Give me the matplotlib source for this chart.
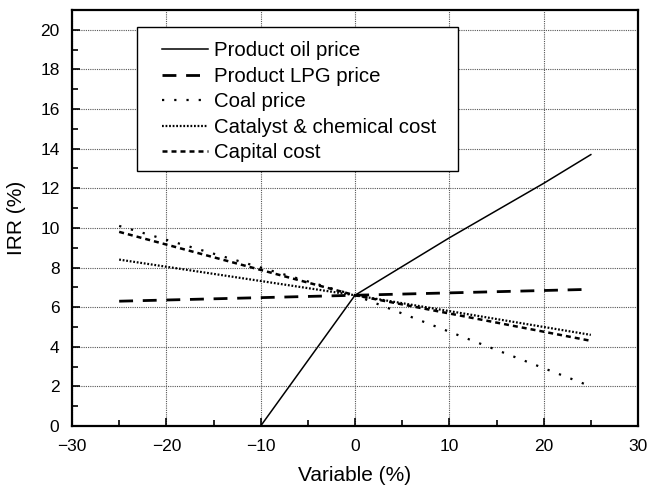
import matplotlib
matplotlib.use("Agg")
import matplotlib.pyplot as plt
from matplotlib.ticker import MultipleLocator
from matplotlib.patches import Rectangle

plt.rcParams['font.family'] = ['Liberation Sans', 'DejaVu Sans']

oil_x = [-10, 0, 10, 20, 25]
oil_y = [0.0, 6.6, 9.5, 12.25, 13.7]
lpg_x = [-25, 0, 25]
lpg_y = [6.3, 6.6, 6.9]
coal_x = [-25, 0, 25]
coal_y = [10.1, 6.6, 2.0]
cat_x = [-25, 0, 25]
cat_y = [8.4, 6.6, 4.6]
cap_x = [-25, 0, 25]
cap_y = [9.8, 6.6, 4.3]

fig = plt.figure(figsize=(6.5, 4.86), dpi=100)
ax = fig.add_axes([72 / 650, 60 / 486, 566 / 650, 416 / 486])

ax.plot(oil_x, oil_y, color='black', lw=1.1, label='Product oil price')
ax.plot(lpg_x, lpg_y, color='black', lw=2.0, dashes=(5, 3.5), label='Product LPG price')
ax.plot(coal_x, coal_y, color='black', lw=1.6, dashes=(1, 4.5), label='Coal price')
ax.plot(cat_x, cat_y, color='black', lw=1.6, dashes=(0.8, 0.8), label='Catalyst & chemical cost')
ax.plot(cap_x, cap_y, color='black', lw=1.8, dashes=(2, 1.6), label='Capital cost')

ax.set_xlim(-30, 30)
ax.set_ylim(0, 21)
ax.xaxis.set_minor_locator(MultipleLocator(5))
ax.yaxis.set_minor_locator(MultipleLocator(1))
ax.set_xticks(range(-30, 31, 10))
ax.set_xticklabels(['\u221230', '\u221220', '\u221210', '0', '10', '20', '30'])
ax.set_yticks(range(0, 21, 2))
ax.tick_params(which='both', direction='in', top=False, right=False, labelsize=12.5)
ax.tick_params(which='major', length=6, width=1.2)
ax.tick_params(which='minor', length=4, width=1.2)
ax.tick_params(axis='x', pad=9)
ax.tick_params(axis='y', pad=9)
ax.grid(True, which='major', color='#555555', ls=(0, (1, 1)), lw=0.8)
for s in ax.spines.values():
    s.set_linewidth(1.6)

ax.set_xlabel('Variable (%)', fontsize=15, labelpad=9)
ax.set_ylabel('IRR (%)', fontsize=15, labelpad=10)

# legend box drawn separately (wider side padding than top)
ax.add_patch(Rectangle((0.115, 0.613), 0.567, 0.346, transform=ax.transAxes,
                       facecolor='white', edgecolor='black', lw=1.0, zorder=4))
leg = ax.legend(loc='upper left', bbox_to_anchor=(0.159, 0.925), fontsize=14.7,
                frameon=False, handlelength=2.25, handletextpad=0.3,
                labelspacing=0.32, borderpad=0, borderaxespad=0)
leg.set_zorder(5)

plt.savefig('out.png', dpi=100)
